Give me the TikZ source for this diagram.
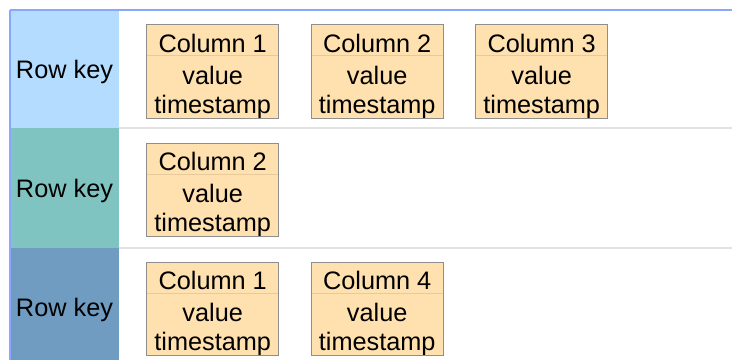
\documentclass[tikz,border=0pt]{standalone}
\usepackage{fontspec}
\setmainfont{Liberation Sans}
\definecolor{keyA}{HTML}{B3DCFE}
\definecolor{keyB}{HTML}{80C4C2}
\definecolor{keyC}{HTML}{6F9CC0}
\definecolor{edgeblue}{HTML}{8AA6FF}
\definecolor{sepgray}{HTML}{E2E2E2}
\definecolor{cellfill}{HTML}{FFE1AF}
\definecolor{cellborder}{HTML}{8E8E8E}
\definecolor{celldiv}{HTML}{E6CA9C}
\tikzset{
  keytext/.style={inner sep=0pt, font=\fontsize{25.3}{29}\selectfont},
  headcell/.style={fill=cellfill, minimum width=132pt, minimum height=31pt, inner sep=0pt, anchor=north west},
  bodycell/.style={fill=cellfill, minimum width=132pt, minimum height=62pt, inner sep=0pt, anchor=north west},
  celltext/.style={inner sep=0pt, align=center, font=\fontsize{25.3}{29}\selectfont},
  cellframe/.style={draw=cellborder, line width=1pt},
  celldivider/.style={draw=celldiv, line width=1pt},
  rowsep/.style={draw=sepgray, line width=1.5pt},
  topedge/.style={draw=edgeblue, line width=1.2pt}
}
\newcommand\mycell[4]{%
  \node[headcell] (#1h) at (#2,#3) {};
  \node[bodycell] (#1b) at (#1h.south west) {};
  \node[celltext, yshift=-3pt] (#1ht) at (#1h.center) {#4};
  \node[celltext, yshift=-5pt] (#1bt) at (#1b.center) {value\\timestamp};
  \draw[celldivider] (#1h.south west) -- (#1h.south east);
  \draw[cellframe] (#1h.north west) rectangle (#1b.south east);
}
\begin{document}
\begin{tikzpicture}[x=1pt,y=-1pt]
\useasboundingbox (0,0) rectangle (732,360);
% key column
\fill[keyA] (10,10) rectangle (119,128);
\fill[keyB] (10,128) rectangle (119,248);
\fill[keyC] (10,248) rectangle (119,360);
\node[keytext] (k1) at (64.5,72) {Row key};
\node[keytext] (k2) at (64.5,191) {Row key};
\node[keytext] (k3) at (64.5,310) {Row key};
% separators
\draw[rowsep] (119,128) -- (732,128);
\draw[rowsep] (119,248) -- (732,248);
\draw[topedge] (10,10) -- (732,10);
\draw[topedge] (10,10) -- (10,360);
% cells
\mycell{ra}{146.5}{24.5}{Column 1}
\mycell{rb}{311}{24.5}{Column 2}
\mycell{rc}{475.5}{24.5}{Column 3}
\mycell{sa}{146.5}{143}{Column 2}
\mycell{ta}{146.5}{262}{Column 1}
\mycell{tb}{311}{262}{Column 4}
\end{tikzpicture}
\end{document}
